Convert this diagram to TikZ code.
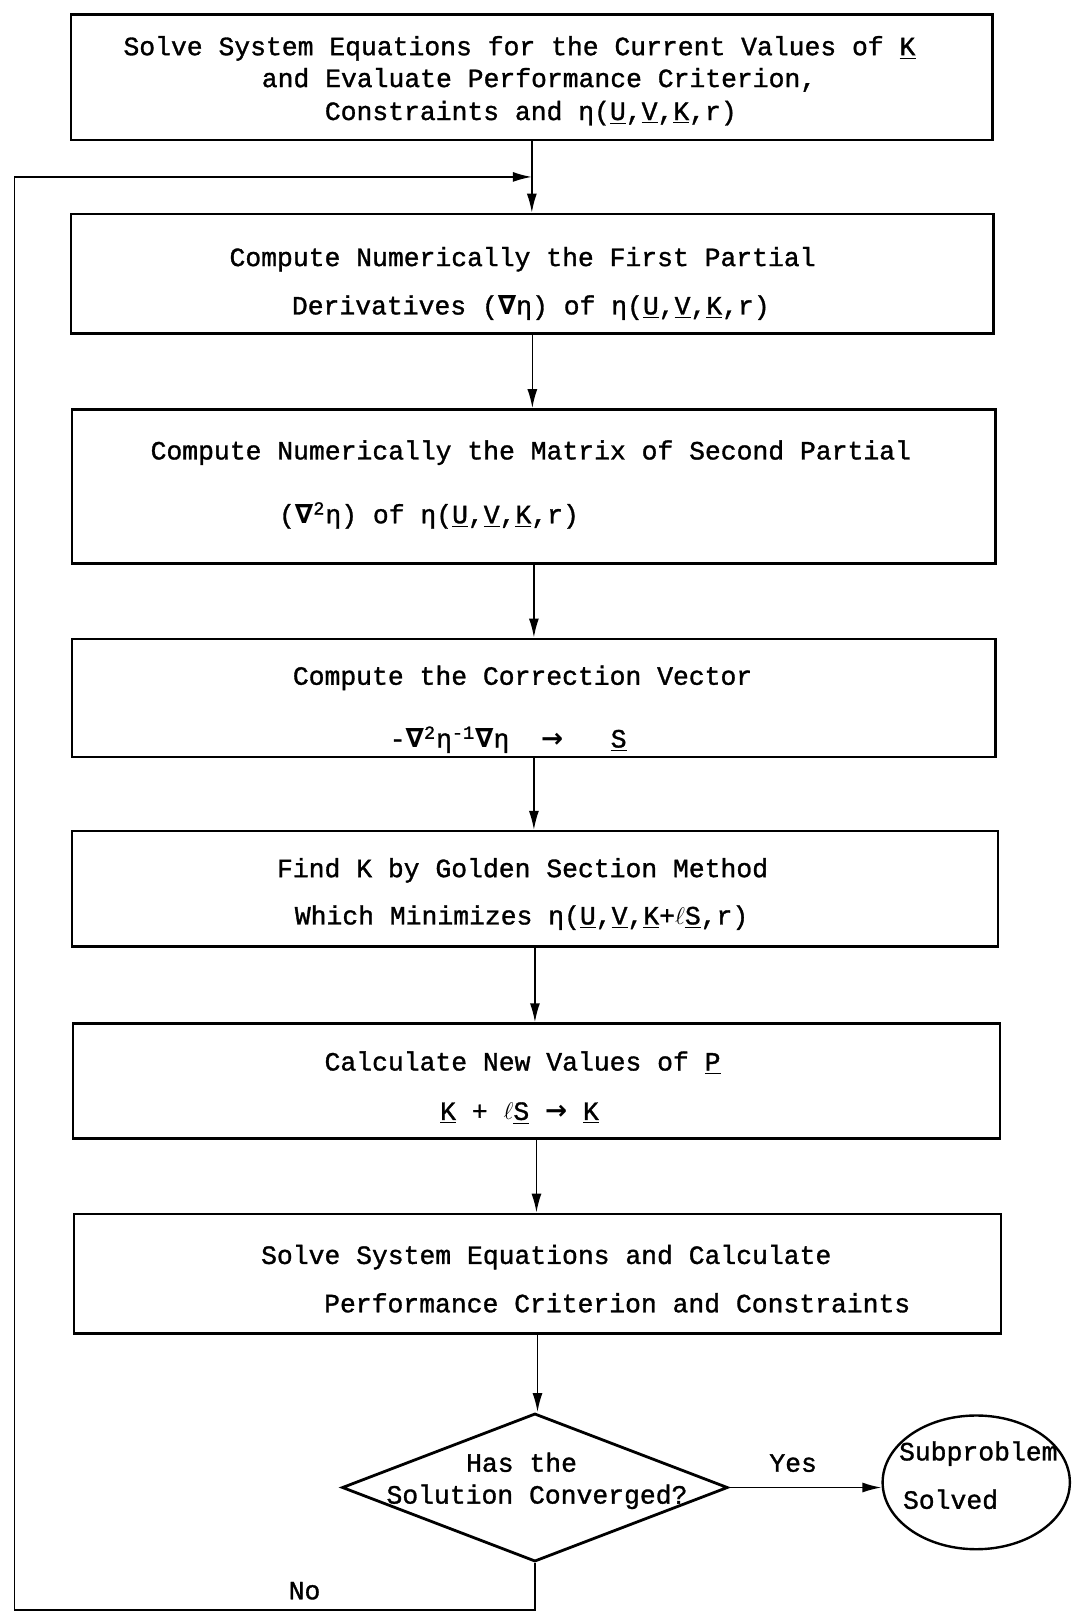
\documentclass[tikz,border=0pt]{standalone}
\usepackage{fontspec}
\usetikzlibrary{shapes.geometric,arrows.meta,fit}
\newfontfamily\tw{Liberation Mono}[FakeBold=1.2]
\newfontfamily\symf{DejaVu Sans}
% gradient sign, arrow and underlined vectors
\newcommand\nab{{\symf\bfseries ∇}}
\newcommand\toarr{{\symf\bfseries →}}
\newcommand\ul[1]{\underline{#1}}
\newcommand\sq{\textsuperscript{2}}

\begin{document}
\begin{tikzpicture}[x=0.5144pt,y=-0.5144pt,
  box/.style={draw,line width=1.3pt,inner sep=0pt},
  lbl/.style={anchor=mid,inner sep=0pt,yshift=-2.3pt,font=\tw\fontsize{13.2}{16}\selectfont},
  link/.style={line width=0.8pt,-{Latex[length=9.5pt,width=5pt]}},
]
\useasboundingbox (0,0) rectangle (1043,1568);
\fill[white] (0,0) rectangle (1043,1568);

% process boxes
\node[box,fit={(69,14)(965,136)}] (b1) {};
\node[box,fit={(69,208)(966,324)}] (b2) {};
\node[box,fit={(70,398)(968,548)}] (b3) {};
\node[box,fit={(70,621)(968,736)}] (b4) {};
\node[box,fit={(70,808)(970,920)}] (b5) {};
\node[box,fit={(71,995)(972,1107)}] (b6) {};
\node[box,fit={(72,1180)(973,1296)}] (b7) {};

% box texts
\node[lbl] (t1a) at (505,45) {Solve System Equations for the Current Values of \ul{K}};
\node[lbl] (t1b) at (524,76) {and Evaluate Performance Criterion,};
\node[lbl] (t1c) at (516,108) {Constraints and η(\ul{U},\ul{V},\ul{K},r)};

\node[lbl] (t2a) at (508,250) {Compute Numerically the First Partial};
\node[lbl] (t2b) at (516,297) {Derivatives (\nab η) of η(\ul{U},\ul{V},\ul{K},r)};

\node[lbl] (t3a) at (516,438) {Compute Numerically the Matrix of Second Partial};
\node[lbl] (t3b) at (417,500) {(\nab\sq η) of η(\ul{U},\ul{V},\ul{K},r)};

\node[lbl] (t4a) at (508,657) {Compute the Correction Vector};
\node[lbl] (t4b) at (494,718) {-\nab\sq η\textsuperscript{-1}\nab η\ \ \toarr\ \ \ \ul{S}};

\node[lbl] (t5a) at (508,844) {Find K by Golden Section Method};
\node[lbl] (t5b) at (507,890) {Which Minimizes η(\ul{U},\ul{V},\ul{K}+$\ell$\ul{S},r)};

\node[lbl] (t6a) at (508,1032) {Calculate New Values of \ul{P}};
\node[lbl] (t6b) at (505,1080) {\ul{K} + $\ell$\ul{S} \toarr\ \ul{K}};

\node[lbl] (t7a) at (531,1220) {Solve System Equations and Calculate};
\node[lbl] (t7b) at (600,1267) {Performance Criterion and Constraints};

% decision and terminal
\node[draw,diamond,line width=1.4pt,inner sep=0pt,
      minimum width=375*0.5144pt,minimum height=144*0.5144pt] (d) at (520,1446) {};
\node[lbl] (da) at (507,1422) {Has the};
\node[lbl] (db) at (522,1453) {Solution Converged?};

\node[draw,ellipse,line width=1.2pt,inner sep=0pt,
      minimum width=182*0.5144pt,minimum height=130*0.5144pt] (e) at (949,1441) {};
\node[lbl] (ea) at (951,1411) {Subproblem};
\node[lbl] (eb) at (924,1458) {Solved};

\node[lbl] (yes) at (771,1422) {Yes};
\node[lbl] (no) at (296,1546) {No};

% flow connectors
\coordinate (j) at (b1.south |- 0,172);
\coordinate (lt) at (14,172);
\coordinate (lb) at (14,1565);

\draw[link] (b1.south) -- (b1.south |- b2.north);
\draw[link] (b2.south) -- (b2.south |- b3.north);
\draw[link] (b3.south) -- (b3.south |- b4.north);
\draw[link] (b4.south) -- (b4.south |- b5.north);
\draw[link] (b5.south) -- (b5.south |- b6.north);
\draw[link] (b6.south) -- (b6.south |- b7.north);
\draw[link] (b7.south) -- (b7.south |- d.north);
\draw[link] (d.east) -- (d.east -| e.west);
\draw[link] (d.south) |- (lb) -- (lt) -- (j);
\end{tikzpicture}
\end{document}
